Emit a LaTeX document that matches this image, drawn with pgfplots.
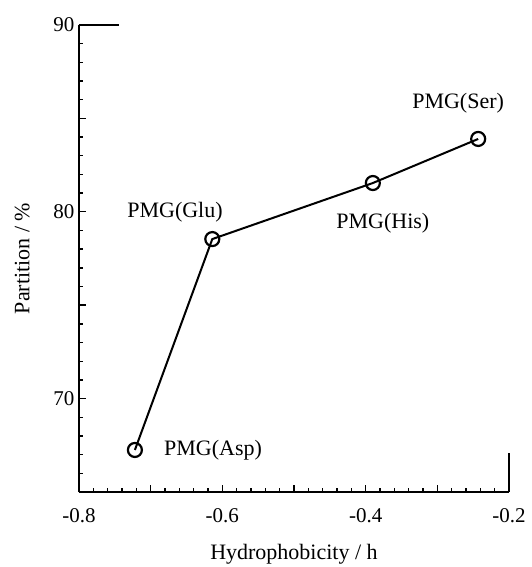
\documentclass[border=0pt]{standalone}
\usepackage{fontspec}
\setmainfont{Liberation Serif}
\usepackage{pgfplots}
\pgfplotsset{compat=1.18}

\begin{document}
\begin{tikzpicture}[x=1pt,y=1pt,font=\fontsize{22}{26}\selectfont]
\useasboundingbox (-79,-75) rectangle (453,492);
\begin{axis}[
    at={(0,0)}, anchor=south west,
    scale only axis, width=430pt, height=467pt,
    xmin=-0.8, xmax=-0.2, ymin=65, ymax=90,
    axis x line*=bottom, axis y line*=left,
    axis line style={line width=2.8pt, -},
    xtick={-0.8,-0.7,-0.6,-0.5,-0.4,-0.3,-0.2},
    xticklabels={-0.8,,-0.6,,-0.4,,-0.2},
    minor xtick={-0.78,-0.76,...,-0.21},
    ytick={65,70,75,80,85,90},
    yticklabels={,70,,80,,90},
    minor ytick={66,67,...,89},
    tick align=inside,
    major tick length=7pt, minor tick length=4pt,
    tick style={line width=1.4pt, black},
    ticklabel style={font=\fontsize{21}{25}\selectfont},
    label style={font=\fontsize{22}{26}\selectfont},
    xticklabel style={yshift=-13pt},
    yticklabel style={xshift=-1pt},
    xlabel={Hydrophobicity / h},
    ylabel={Partition / \%},
    xlabel style={yshift=-15pt},
    ylabel style={yshift=17pt},
    clip=false,
  ]
  \addplot[line width=2pt, black, mark=o, mark size=7pt,
    mark options={fill=white, line width=2.2pt}]
    coordinates {(-0.722,67.25) (-0.614,78.54) (-0.390,81.54) (-0.243,83.9)};
  \draw[line width=2.8pt] (axis cs:-0.8,90) -- (axis cs:-0.744,90);
  \draw[line width=2.8pt] (axis cs:-0.2,65) -- (axis cs:-0.2,67.1);
  \node at (axis cs:-0.613,67.25) {PMG(Asp)};
  \node at (axis cs:-0.666,80.0) {PMG(Glu)};
  \node at (axis cs:-0.376,79.4) {PMG(His)};
  \node at (axis cs:-0.271,85.8) {PMG(Ser)};
\end{axis}
\end{tikzpicture}
\end{document}
